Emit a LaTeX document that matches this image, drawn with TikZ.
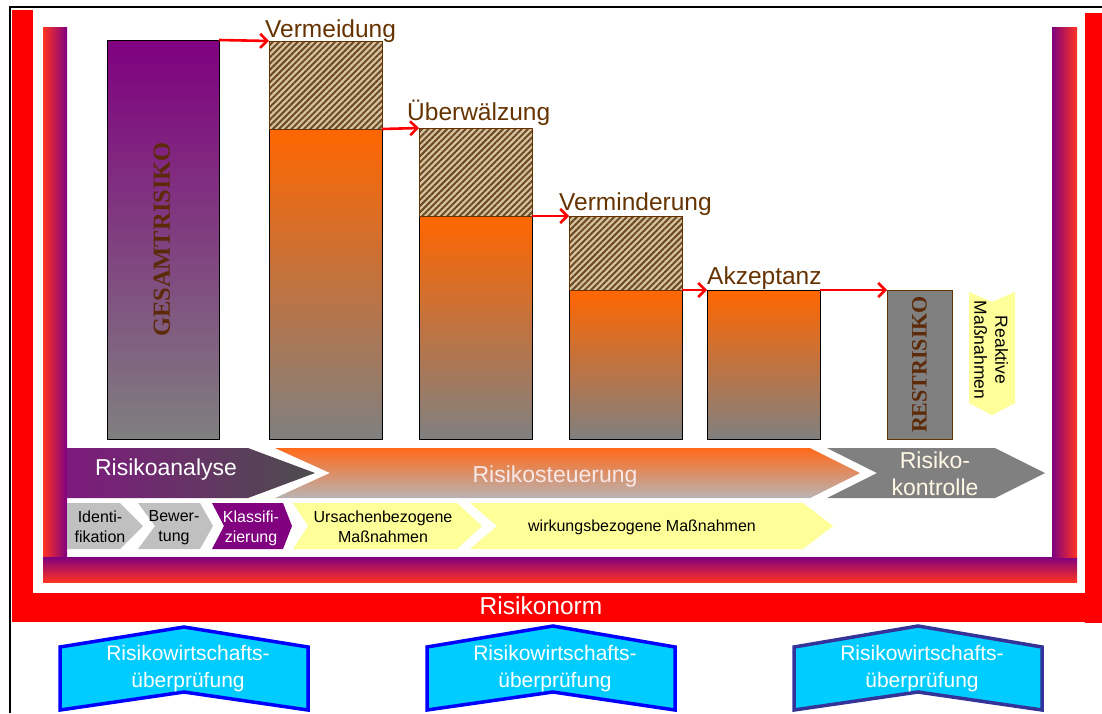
\documentclass[tikz,border=0pt]{standalone}
\usepackage{fontspec}
\setmainfont{Liberation Sans}
\newfontfamily\serifface{Liberation Serif}
\usetikzlibrary{arrows.meta,patterns.meta}
\definecolor{lblbrown}{HTML}{663300}
\definecolor{txtbrown}{HTML}{5C2A08}
\definecolor{hatchbg}{HTML}{D4C4A4}
\definecolor{hatchfg}{HTML}{6E4A22}
\definecolor{purp}{HTML}{800080}
\definecolor{midgray}{HTML}{808080}
\definecolor{orng}{HTML}{FF6600}
\definecolor{frred}{HTML}{FF3322}
\definecolor{chgray}{HTML}{C0C0C0}
\definecolor{chyellow}{HTML}{FFFF99}
\definecolor{cyanfill}{HTML}{00CCFF}
\definecolor{navy}{HTML}{333399}
\definecolor{ragray}{HTML}{4D4D4D}
\definecolor{ratop}{HTML}{7E1A7E}
\definecolor{rstop}{HTML}{FF6A1A}
\definecolor{rsbot}{HTML}{B8B4B4}
\definecolor{cream}{HTML}{FFF8E6}
\definecolor{rosewhite}{HTML}{F8E8E8}
\begin{document}
\begin{tikzpicture}[x=1pt,y=-1pt,
  riskbar/.style={draw=black, line width=0.8pt, inner sep=0pt, outer sep=0pt, anchor=north west},
  orangebar/.style={riskbar, top color=orng, bottom color=midgray},
  hatchbar/.style={draw=lblbrown, line width=1pt, inner sep=0pt, outer sep=0pt, anchor=north west,
     preaction={fill=hatchbg}, pattern={Lines[angle=45,distance=4.4pt,line width=2pt]}, pattern color=hatchfg},
  redarrow/.style={draw=red, line width=2.6pt, -{Straight Barb[length=7pt,width=14pt,line width=2.6pt]}},
  steplabel/.style={text=lblbrown, font=\fontsize{24.5}{29}\selectfont, anchor=base west, inner sep=0pt},
  vertlabel/.style={rotate=90, text=txtbrown, inner sep=0pt},
  phasetext/.style={text=white, font=\fontsize{23}{27}\selectfont, inner sep=0pt},
  subtext/.style={text=black, font=\fontsize{16}{20}\selectfont, inner sep=0pt, align=center, anchor=north},
  bluebox/.style={fill=cyanfill, draw=blue, line width=3.5pt, line join=miter},
  bluetext/.style={text=white, font=\fontsize{21}{27}\selectfont, inner sep=0pt, align=center, anchor=north}
]
\useasboundingbox (0,0) rectangle (1102,713);
\fill[white] (0,0) rectangle (1102,713);

% outer red U frame
\fill[red] (12,10) rectangle (33,622);
\fill[red] (12,593) rectangle (1085,622);
\fill[red] (1085,13) rectangle (1102,623);
% inner gradient frame
\shade[left color=frred, right color=purp] (43,27) rectangle (67,557);
\shade[top color=purp, bottom color=frred] (43,557) rectangle (1077,582);
\shade[left color=purp, right color=frred] (1052,27) rectangle (1077,557);
% black border lines
\draw[line width=2.5pt] (10,713) -- (10,7) -- (1102,7);

% bars
\node[riskbar, top color=purp, bottom color=midgray, minimum width=112, minimum height=399] (ges) at (107,40) {};
\node[orangebar, minimum width=113, minimum height=310] (vo) at (269,129) {};
\node[hatchbar, minimum width=113, minimum height=88] (vh) at (269,41) {};
\node[orangebar, minimum width=113, minimum height=223] (uo) at (419,216) {};
\node[hatchbar, minimum width=113, minimum height=88] (uh) at (419,128) {};
\node[orangebar, minimum width=113, minimum height=149] (mo) at (569,290) {};
\node[hatchbar, minimum width=113, minimum height=74] (mh) at (569,216) {};
\node[orangebar, minimum width=113, minimum height=149] (ao) at (707,290) {};
\node[riskbar, draw=lblbrown, fill=midgray, minimum width=65, minimum height=149] (rest) at (887,290) {};

\node[vertlabel, font=\serifface\bfseries\fontsize{24.5}{29}\selectfont] (tg) at ([xshift=-1pt]ges.center) {GESAMTRISIKO};
\node[vertlabel, font=\serifface\bfseries\fontsize{22}{26}\selectfont] (tr) at (rest.center) {RESTRISIKO};

% red arrows
\draw[redarrow] (ges.north east) -- (vh.north west);
\draw[redarrow] (vh.south east) -- (uh.north west);
\draw[redarrow] (uh.south east) -- (mh.north west);
\draw[redarrow] (mh.south east) -- (ao.north west);
\draw[redarrow] (ao.north east) -- (rest.north west);

% step labels
\node[steplabel] (lv) at (265,37) {Vermeidung};
\node[steplabel] (lu) at (407,120) {Überwälzung};
\node[steplabel] (lm) at (559,210) {Verminderung};
\node[steplabel] (la) at (707,284) {Akzeptanz};

% reactive measures chevron
\fill[chyellow] (969,292) -- (992,302) -- (1015,292) -- (1015,403) -- (992,415) -- (969,403) -- cycle;
\node[rotate=-90, align=center, font=\fontsize{17.5}{21}\selectfont, inner sep=0pt] (rm) at (991,350) {Reaktive\\Maßnahmen};

% phase chevrons
\shade[left color=ratop, right color=ragray] (67,448) -- (248,448) -- (315,473) -- (248,498) -- (67,498) -- cycle;
\shade[top color=rstop, bottom color=rsbot] (275,448) -- (810,448) -- (860,473) -- (810,498) -- (275,498) -- (330,473) -- cycle;
\fill[midgray] (827,448) -- (995,448) -- (1045,473) -- (995,498) -- (827,498) -- (877,473) -- cycle;
\node[phasetext, anchor=base] (tra) at (166,475) {Risikoanalyse};
\node[phasetext, anchor=base, text=rosewhite] (trs) at (555,482) {Risikosteuerung};
\node[phasetext, align=center, anchor=north, text=cream] (trk) at (935,451.5) {Risiko-\\kontrolle};

% sub chevrons
\fill[chgray] (67,503) -- (120,503) -- (143,526) -- (120,549) -- (67,549) -- cycle;
\fill[chgray] (138,503) -- (200,503) -- (213,526) -- (200,549) -- (138,549) -- (155,526) -- cycle;
\fill[purp] (212,503) -- (283,503) -- (292,526) -- (283,549) -- (212,549) -- (224,526) -- cycle;
\fill[chyellow] (293,503) -- (457,503) -- (482,526) -- (457,549) -- (293,549) -- (308,526) -- cycle;
\fill[chyellow] (470,503) -- (803,503) -- (833,526) -- (803,549) -- (470,549) -- (497,526) -- cycle;
\node[subtext] (s1) at (100,510.5) {Identi-\\fikation};
\node[subtext] (s2) at (174,510.5) {Bewer-\\tung};
\node[subtext, text=white] (s3) at (251,510.5) {Klassifi-\\zierung};
\node[subtext] (s4) at (383,510.5) {Ursachenbezogene\\Maßnahmen};
\node[subtext, anchor=base] (s5) at (642,531) {wirkungsbezogene Maßnahmen};

% Risikonorm
\node[anchor=base, text=white, font=\fontsize{24.5}{29}\selectfont, inner sep=0pt] (rn) at (541,614) {Risikonorm};

% review boxes
\draw[bluebox] (60,647) -- (184,627) -- (308,647) -- (308,710) -- (184,692) -- (60,710) -- cycle;
\draw[bluebox] (427,647) -- (553,626) -- (675,647) -- (675,710) -- (553,692) -- (427,710) -- cycle;
\draw[bluebox, draw=navy] (794,647) -- (918,626) -- (1042,647) -- (1042,710) -- (918,692) -- (794,710) -- cycle;
\node[bluetext] (b1) at (188,645) {Risikowirtschafts-\\überprüfung};
\node[bluetext] (b2) at (555,645) {Risikowirtschafts-\\überprüfung};
\node[bluetext] (b3) at (922,645) {Risikowirtschafts-\\überprüfung};
\end{tikzpicture}
\end{document}
